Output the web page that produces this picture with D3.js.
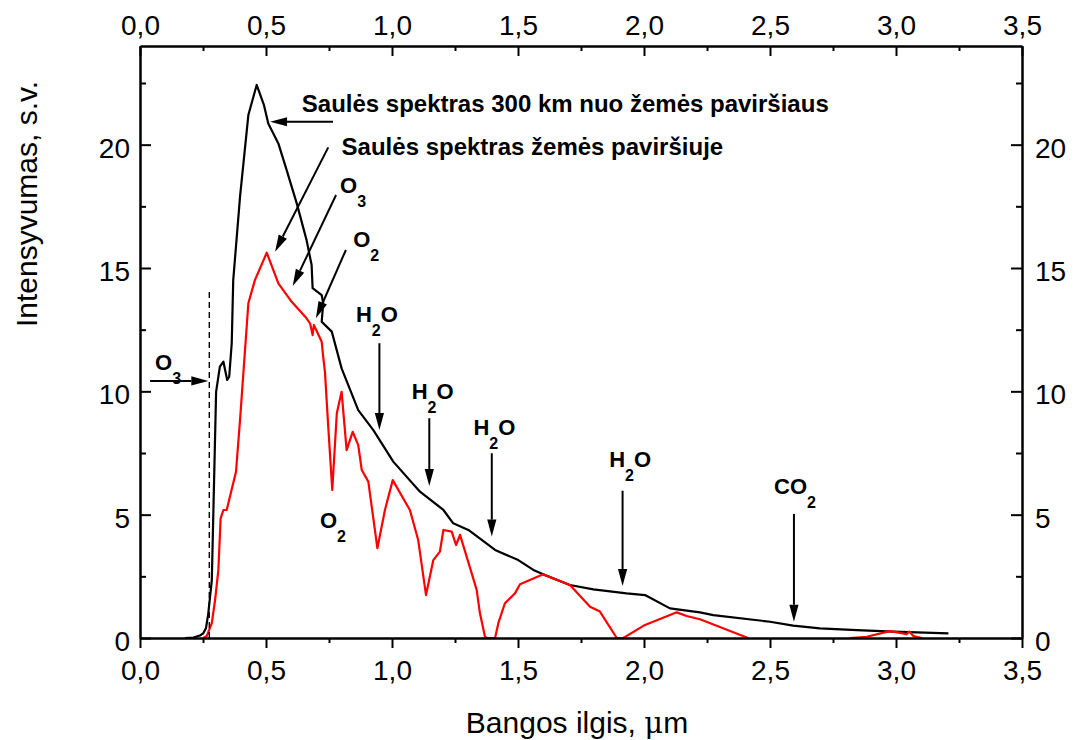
<!DOCTYPE html>
<html>
<head>
<meta charset="utf-8">
<script src="https://cdn.jsdelivr.net/npm/d3@7"></script>
<style>
  body { margin: 0; background: #fff; }
  text { font-family: "Liberation Sans", Arial, sans-serif; }
</style>
</head>
<body>
<script>
// solar spectrum 300 km above the surface (black)
var spaceX = [0.179, 0.212, 0.238, 0.251, 0.262, 0.271, 0.285, 0.294, 0.302, 0.317, 0.331, 0.346, 0.354, 0.364, 0.37,
  0.397, 0.43, 0.463, 0.492, 0.509, 0.549, 0.582, 0.622, 0.661, 0.681, 0.685, 0.721, 0.727, 0.721, 0.761, 0.8,
  0.866, 0.926, 1.005, 1.111, 1.204, 1.243, 1.303, 1.409, 1.501, 1.561, 1.6, 1.706, 1.799, 1.931, 2.004, 2.103,
  2.222, 2.275, 2.5, 2.592, 2.698, 2.844, 2.989, 3.208];
var spaceY = [0, 0.02, 0.1, 0.19, 0.4, 1.0, 2.35, 6.4, 9.98, 11.0, 11.2, 10.46, 10.59, 11.95, 14.51,
  17.89, 21.2, 22.42, 21.6, 20.86, 20.05, 18.97, 17.62, 16.13, 15.12, 14.18, 13.9, 13.57, 12.82, 12.42, 10.93,
  9.24, 8.43, 7.15, 5.93, 5.19, 4.65, 4.38, 3.57, 3.16, 2.76, 2.58, 2.15, 1.97, 1.81, 1.74, 1.2,
  1.04, 0.93, 0.66, 0.5, 0.39, 0.32, 0.26, 0.19];

// solar spectrum at the ground (red), null = gap
var groundX = [0.251, 0.265, 0.285, 0.298, 0.311, 0.32, 0.331, 0.344, 0.381, 0.397, 0.43, 0.456, 0.503, 0.549,
  0.602, 0.661, 0.675, 0.685, 0.69, 0.721, 0.727, 0.734, 0.747, 0.763, 0.781, 0.8, 0.82, 0.844, 0.866, 0.88,
  0.906, 0.942, 0.972, 1.003, 1.071, 1.104, 1.135, 1.164, 1.19, 1.204, 1.237, 1.254, 1.27, 1.31, 1.336, 1.349,
  1.369, 1.377, 1.409, 1.422, 1.448, 1.488, 1.508, 1.6, 1.706, 1.786, 1.825, 1.892, 1.918, 2.004, 2.13, 2.169,
  2.222, 2.413, 2.6, 2.817, 2.884, 2.976, 3.016, 3.042, 3.053, 3.069, 3.102];
var groundY = [0, 0.08, 0.6, 1.54, 2.76, 4.85, 5.19, 5.19, 6.74, 8.84, 13.57, 14.51, 15.62, 14.38,
  13.63, 12.96, 12.75, 12.28, 12.69, 12.01, 11.4, 10.78, 8.57, 6.0, 9.11, 9.98, 7.62, 8.36, 7.82, 6.81,
  6.34, 3.64, 5.19, 6.4, 5.19, 3.97, 1.74, 3.16, 3.5, 4.38, 4.31, 3.77, 4.18, 2.83, 1.95, 1.0,
  0.05, 0, 0, 0.6, 1.41, 1.81, 2.18, 2.58, 2.15, 1.27, 1.07, 0, 0, 0.53, 1.04, 0.89,
  0.76, 0, null, 0, 0.05, 0.28, 0.21, 0.15, 0.26, 0.08, 0];

var xTicks = [0, 0.5, 1, 1.5, 2, 2.5, 3, 3.5];
var xTickLabels = ["0,0", "0,5", "1,0", "1,5", "2,0", "2,5", "3,0", "3,5"];
var xMinor = [0.25, 0.75, 1.25, 1.75, 2.25, 2.75, 3.25];
var yTicks = [0, 5, 10, 15, 20];
var yMinor = [2.5, 7.5, 12.5, 17.5, 22.5];

// ozone edge marker (dashed)
var edgeX = 0.275, edgeTop = 14.1;

// annotations: text parts, text anchor (data units), arrow from -> to (data units)
var notes = [
  { parts: [["Saulės spektras 300 km nuo žemės paviršiaus"]], at: [0.642, 21.33], arrow: [0.766, 20.93, 0.516, 20.93], big: true },
  { parts: [["Saulės spektras žemės paviršiuje"]], at: [0.800, 19.58], arrow: [0.747, 19.89, 0.536, 15.66], big: true },
  { parts: [["O"], ["3", 1]], at: [0.794, 18.03], arrow: [0.778, 17.96, 0.606, 14.27] },
  { parts: [["O"], ["2", 1]], at: [0.846, 15.86], arrow: [0.817, 15.73, 0.698, 12.96] },
  { parts: [["H"], ["2", 1], ["O"]], at: [0.857, 12.82], arrow: [0.95, 11.95, 0.95, 8.43] },
  { parts: [["H"], ["2", 1], ["O"]], at: [1.078, 9.69], arrow: [1.148, 8.91, 1.148, 6.16] },
  { parts: [["H"], ["2", 1], ["O"]], at: [1.323, 8.23], arrow: [1.396, 7.49, 1.396, 4.11] },
  { parts: [["H"], ["2", 1], ["O"]], at: [1.862, 6.94], arrow: [1.915, 5.97, 1.915, 2.11] },
  { parts: [["CO"], ["2", 1]], at: [2.516, 5.84], arrow: [2.595, 5.03, 2.595, 0.66] },
  { parts: [["O"], ["2", 1]], at: [0.714, 4.46], arrow: null },
  { parts: [["O"], ["3", 1]], at: [0.06, 10.86], arrow: [0.04, 10.42, 0.271, 10.42] }
];

var width = 1077, height = 740;

var svg = d3.select("body").append("svg")
  .attr("width", width)
  .attr("height", height)
  .style("background", "#fff");

var x = d3.scaleLinear().domain([0, 3.5]).range([140, 1022]);
var y = d3.scaleLinear().domain([0, 24]).range([638, 46]);

var line = d3.line()
  .defined(function(d) { return d[1] != null; })
  .x(function(d) { return x(d[0]); })
  .y(function(d) { return y(d[1]); });

svg.append("path")
  .datum(spaceX.map(function(v, i) { return [v, spaceY[i]]; }))
  .attr("d", line)
  .attr("fill", "none")
  .attr("stroke", "#000")
  .attr("stroke-width", 2.2)
  .attr("stroke-linejoin", "round");

svg.append("path")
  .datum(groundX.map(function(v, i) { return [v, groundY[i]]; }))
  .attr("d", line)
  .attr("fill", "none")
  .attr("stroke", "#ff0000")
  .attr("stroke-width", 2.2)
  .attr("stroke-linejoin", "round");

svg.append("line")
  .attr("x1", x(edgeX)).attr("x2", x(edgeX))
  .attr("y1", y(0)).attr("y2", y(edgeTop))
  .attr("stroke", "#000")
  .attr("stroke-width", 1.4)
  .attr("stroke-dasharray", "6,4");

// axes
function styleAxis(g) {
  g.attr("font-size", 28).attr("font-family", "Liberation Sans, Arial, sans-serif");
  g.select(".domain").attr("stroke-width", 2.5);
  g.selectAll(".tick line").attr("stroke-width", 2);
  g.selectAll(".tick text").attr("fill", "#000");
}
function fmtX(d) { return xTickLabels[xTicks.indexOf(d)]; }

svg.append("g").attr("transform", "translate(0," + y(0) + ")")
  .call(d3.axisBottom(x).tickValues(xTicks).tickFormat(fmtX).tickSize(10).tickSizeOuter(0).tickPadding(12))
  .call(styleAxis);
svg.append("g").attr("transform", "translate(0," + y(0) + ")")
  .call(d3.axisBottom(x).tickValues(xMinor).tickFormat("").tickSize(5))
  .call(function(g) { g.select(".domain").remove(); g.selectAll("line").attr("stroke-width", 2); });

svg.append("g").attr("transform", "translate(0," + y(24) + ")")
  .call(d3.axisTop(x).tickValues(xTicks).tickFormat(fmtX).tickSize(-10).tickSizeOuter(0).tickPadding(11))
  .call(styleAxis);
svg.append("g").attr("transform", "translate(0," + y(24) + ")")
  .call(d3.axisTop(x).tickValues(xMinor).tickFormat("").tickSize(-5))
  .call(function(g) { g.select(".domain").remove(); g.selectAll("line").attr("stroke-width", 2); });

svg.append("g").attr("transform", "translate(" + x(0) + ",0)")
  .call(d3.axisLeft(y).tickValues(yTicks).tickSize(-11).tickSizeOuter(0).tickPadding(10))
  .call(styleAxis)
  .call(function(g) { g.selectAll(".tick text").attr("dy", "0.45em"); });
svg.append("g").attr("transform", "translate(" + x(0) + ",0)")
  .call(d3.axisLeft(y).tickValues(yMinor).tickFormat("").tickSize(-6))
  .call(function(g) { g.select(".domain").remove(); g.selectAll("line").attr("stroke-width", 2); });

svg.append("g").attr("transform", "translate(" + x(3.5) + ",0)")
  .call(d3.axisRight(y).tickValues(yTicks).tickSize(-11).tickSizeOuter(0).tickPadding(13))
  .call(styleAxis)
  .call(function(g) { g.selectAll(".tick text").attr("dy", "0.45em"); });
svg.append("g").attr("transform", "translate(" + x(3.5) + ",0)")
  .call(d3.axisRight(y).tickValues(yMinor).tickFormat("").tickSize(-6))
  .call(function(g) { g.select(".domain").remove(); g.selectAll("line").attr("stroke-width", 2); });

// axis titles
svg.append("text")
  .attr("transform", "translate(37,204) rotate(-90)")
  .attr("text-anchor", "middle")
  .attr("font-size", 30)
  .text("Intensyvumas, s.v.");

var xt = svg.append("text")
  .attr("x", 577).attr("y", 733)
  .attr("text-anchor", "middle")
  .attr("font-size", 30);
xt.append("tspan").text("Bangos ilgis, ");
xt.append("tspan").attr("font-family", "DejaVu Serif, serif").attr("font-size", 29).text("μ");
xt.append("tspan").text("m");

// annotations
function arrow(x1, y1, x2, y2) {
  var dx = x2 - x1, dy = y2 - y1, len = Math.sqrt(dx * dx + dy * dy);
  var ux = dx / len, uy = dy / len, hl = 17, hw = 4.6;
  var bx = x2 - ux * hl, by = y2 - uy * hl;
  svg.append("line")
    .attr("x1", x1).attr("y1", y1).attr("x2", bx).attr("y2", by)
    .attr("stroke", "#000").attr("stroke-width", 2);
  svg.append("path")
    .attr("d", "M" + x2 + "," + y2 + "L" + (bx - uy * hw) + "," + (by + ux * hw) + "L" + (bx + uy * hw) + "," + (by - ux * hw) + "Z")
    .attr("fill", "#000");
}

notes.forEach(function(n) {
  var t = svg.append("text")
    .attr("x", x(n.at[0])).attr("y", y(n.at[1]))
    .attr("font-weight", "bold")
    .attr("font-size", n.big ? 24 : 22);
  var down = false;
  n.parts.forEach(function(p) {
    var s = t.append("tspan").text(p[0]);
    if (p[1]) { s.attr("font-size", 16).attr("dy", 14); down = true; }
    else if (down) { s.attr("dy", -14); down = false; }
  });
  if (n.arrow) arrow(x(n.arrow[0]), y(n.arrow[1]), x(n.arrow[2]), y(n.arrow[3]));
});
</script>
</body>
</html>
